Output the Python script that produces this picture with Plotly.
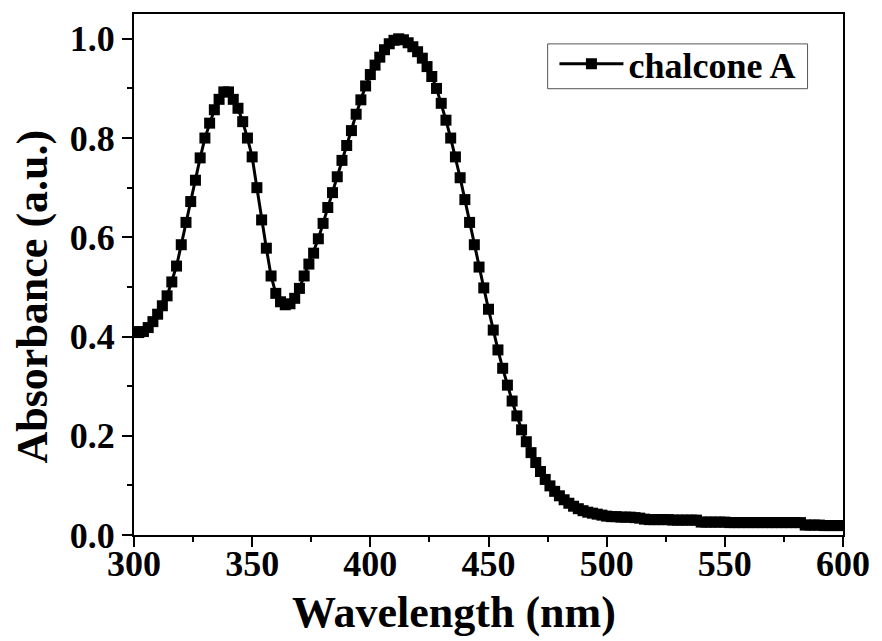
import plotly.graph_objects as go

# UV-Vis absorption spectrum of chalcone A, sampled every 2 nm
wavelength = list(range(300, 601, 2))
absorbance = [
    0.410, 0.408, 0.410, 0.418, 0.430, 0.445, 0.462, 0.482, 0.510, 0.542,   # 300-318
    0.585, 0.630, 0.672, 0.715, 0.760, 0.800, 0.830, 0.857, 0.878, 0.893,   # 320-338
    0.893, 0.878, 0.860, 0.833, 0.800, 0.762, 0.700, 0.635, 0.578, 0.522,   # 340-358
    0.487, 0.470, 0.464, 0.466, 0.477, 0.497, 0.522, 0.546, 0.568, 0.597,   # 360-378
    0.628, 0.660, 0.690, 0.722, 0.755, 0.785, 0.815, 0.848, 0.877, 0.905,   # 380-398
    0.928, 0.947, 0.963, 0.978, 0.990, 0.997, 1.000, 0.998, 0.992, 0.984,   # 400-418
    0.974, 0.961, 0.944, 0.924, 0.900, 0.870, 0.836, 0.800, 0.762, 0.720,   # 420-438
    0.676, 0.630, 0.585, 0.540, 0.498, 0.455, 0.413, 0.373, 0.336, 0.302,   # 440-458
    0.270, 0.240, 0.212, 0.188, 0.166, 0.146, 0.128, 0.112, 0.099, 0.088,   # 460-478
    0.079, 0.071, 0.064, 0.058, 0.053, 0.049, 0.046, 0.044, 0.042, 0.040,   # 480-498
    0.038, 0.037, 0.037, 0.036, 0.036, 0.036, 0.035, 0.034, 0.032, 0.031,   # 500-518
    0.031, 0.031, 0.031, 0.031, 0.030, 0.030, 0.030, 0.030, 0.030, 0.030,   # 520-538
    0.026, 0.026, 0.026, 0.026, 0.026, 0.026, 0.025, 0.025, 0.025, 0.025,   # 540-558
    0.025, 0.025, 0.025, 0.025, 0.025, 0.025, 0.025, 0.025, 0.025, 0.025,   # 560-578
    0.025, 0.025, 0.020, 0.020, 0.020, 0.020, 0.019, 0.019, 0.019, 0.019,   # 580-598
    0.019,                                                                  # 600
]

series_name = "chalcone A"
x_title = "Wavelength (nm)"
y_title = "Absorbance (a.u.)"
x_ticks = [300, 350, 400, 450, 500, 550, 600]
y_ticks = [0.0, 0.2, 0.4, 0.6, 0.8, 1.0]

FONT = "Liberation Serif"

fig = go.Figure()
fig.add_trace(go.Scatter(
    x=wavelength,
    y=absorbance,
    mode="lines+markers",
    name=series_name,
    line=dict(color="black", width=3),
    marker=dict(symbol="square", size=11, color="black"),
))

axis_common = dict(
    showgrid=False,
    zeroline=False,
    showline=True,
    linecolor="black",
    linewidth=2,
    mirror=True,
    ticks="outside",
    ticklen=10,
    tickwidth=2,
    tickcolor="black",
    tickfont=dict(family=FONT, size=36, color="black", weight="bold"),
)

fig.update_xaxes(
    range=[300, 600],
    tickvals=x_ticks,
    ticktext=[str(v) for v in x_ticks],
    ticklabelstandoff=-14,
    minor=dict(ticks="outside", ticklen=5, tickwidth=2, tickcolor="black", dtick=25, tick0=300),
    **axis_common,
)
fig.update_yaxes(
    range=[0, 1.05],
    tickvals=y_ticks,
    ticktext=[f"{v:.1f}" for v in y_ticks],
    minor=dict(ticks="outside", ticklen=5, tickwidth=2, tickcolor="black", dtick=0.1, tick0=0),
    **axis_common,
)

# axis titles placed as annotations
fig.add_annotation(
    text=x_title, xref="paper", yref="paper", x=0.452, y=-0.148,
    xanchor="center", yanchor="middle", showarrow=False,
    font=dict(family=FONT, size=44, color="black", weight="bold"),
)
fig.add_annotation(
    text=y_title, xref="paper", yref="paper", x=-0.143, y=0.457,
    xanchor="center", yanchor="middle", showarrow=False, textangle=-90,
    font=dict(family=FONT, size=44, color="black", weight="bold"),
)

# thin frame around the legend entry
fig.add_shape(
    type="rect", xref="paper", yref="paper",
    x0=0.5834, x1=0.950, y0=0.8566, y1=0.9426,
    line=dict(color="#555555", width=1), fillcolor="rgba(0,0,0,0)",
    layer="above",
)

fig.update_layout(
    width=882,
    height=641,
    margin=dict(l=134, r=35, t=12, b=106),
    paper_bgcolor="white",
    plot_bgcolor="white",
    showlegend=True,
    legend=dict(
        x=0.593, y=0.962, xanchor="left", yanchor="top",
        bgcolor="rgba(0,0,0,0)", borderwidth=0,
        font=dict(family=FONT, size=36, color="black", weight="bold"),
        itemwidth=64,
        tracegroupgap=0,
    ),
)

fig.write_html("out.html")
